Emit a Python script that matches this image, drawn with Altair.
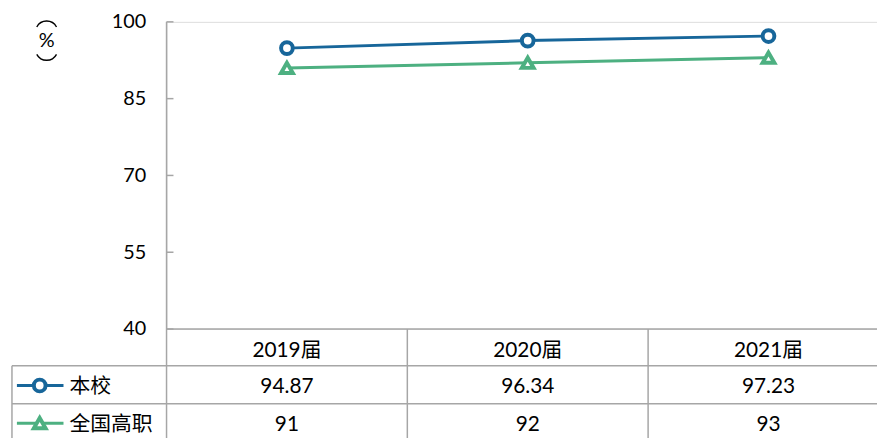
import math
import altair as alt
import pandas as pd

# ---- data ----
years = ["2019届", "2020届", "2021届"]
series_names = ["本校", "全国高职"]
school = [94.87, 96.34, 97.23]
national = [91, 92, 93]
y_ticks = [40, 55, 70, 85, 100]

# ---- styles ----
colors = ["#17669A", "#4DB081"]
shapes = ["circle", "triangle-up"]
FONT = "Lato, 'Noto Sans CJK SC', sans-serif"
GRID = "#A6A6A6"
TXT = "#000000"

rows = []
for s, vals in zip(series_names, [school, national]):
    for y, v in zip(years, vals):
        rows.append({"year": y, "series": s, "value": v})
df = pd.DataFrame(rows)
year_df = pd.DataFrame({"year": years})
tick_df = pd.DataFrame({"value": y_ticks})
one = pd.DataFrame({"k": [0]})

W, H = 717, 310
STEP = 243
xscale = alt.Scale(type="point", domain=years, range=[0, STEP * 3], padding=0.5)
yscale = alt.Scale(domain=[40, 100], nice=False, zero=False)
color_scale = alt.Scale(domain=series_names, range=colors)
shape_scale = alt.Scale(domain=series_names, range=shapes)

X = alt.X("year:N", scale=xscale, axis=None)
yaxis = alt.Axis(values=y_ticks, domain=False, ticks=False, grid=False, labelPadding=21,
                 labelFontSize=20, labelFont=FONT, labelColor=TXT, title=None)
Y = alt.Y("value:Q", scale=yscale, axis=yaxis)


def rule(x, x2, y, y2, w=1.5):
    return alt.Chart(one).mark_rule(color=GRID, strokeWidth=w).encode(
        x=alt.value(x), x2=alt.value(x2), y=alt.value(y), y2=alt.value(y2)
    )


ticks = alt.Chart(tick_df).mark_rule(color=GRID, strokeWidth=1.5).encode(
    y=Y, x=alt.value(0), x2=alt.value(7),
)

line = alt.Chart(df).mark_line(strokeWidth=3).encode(
    x=X, y=Y,
    color=alt.Color("series:N", scale=color_scale, legend=None),
)
pts = alt.Chart(df).mark_point(filled=False, fill="white", fillOpacity=1, opacity=1,
                               strokeWidth=4, size=140).encode(
    x=X, y=Y,
    color=alt.Color("series:N", scale=color_scale, legend=None),
    shape=alt.Shape("series:N", scale=shape_scale, legend=None),
)

layers = [ticks, line, pts]

# table grid
layers += [
    rule(0, 0, 0, 420),
    rule(0, W, 310, 310),
    rule(-156, W, 347, 347),
    rule(-156, W, 385.5, 385.5),
    rule(-156, -156, 347, 420),
]
col_sep = alt.Chart(pd.DataFrame({"year": years[1:]})).mark_rule(
    color=GRID, strokeWidth=1.5, xOffset=-STEP / 2).encode(
    x=X, y=alt.value(310), y2=alt.value(420))
layers.append(col_sep)

# header
header = alt.Chart(year_df).mark_text(fontSize=21, font=FONT, color=TXT, baseline="middle").encode(
    x=X, y=alt.value(332), text="year:N")
layers.append(header)

row_y = [369, 407]
for i, s in enumerate(series_names):
    sub = alt.Chart(df).transform_filter(alt.datum.series == s)
    layers.append(sub.mark_text(fontSize=21, font=FONT, color=TXT, baseline="middle").encode(
        x=X, y=alt.value(row_y[i]), text=alt.Text("value:Q", format="~g")))
    lab = alt.Chart(pd.DataFrame({"series": [s]}))
    layers.append(lab.mark_rule(strokeWidth=3).encode(
        x=alt.value(-151), x2=alt.value(-104), y=alt.value(row_y[i] - 2),
        color=alt.Color("series:N", scale=color_scale, legend=None)))
    layers.append(lab.mark_point(filled=False, fill="white", fillOpacity=1, opacity=1,
                                 strokeWidth=4, size=140).encode(
        x=alt.value(-128), y=alt.value(row_y[i] - 2),
        color=alt.Color("series:N", scale=color_scale, legend=None),
        shape=alt.Shape("series:N", scale=shape_scale, legend=None)))
    layers.append(lab.mark_text(fontSize=21, font=FONT, color=TXT, align="left", baseline="middle").encode(
        x=alt.value(-98), y=alt.value(row_y[i]), text="series:N"))

# vertical unit title "(%)": "%" as text, the turned parentheses as thin arcs
layers.append(alt.Chart(one).mark_text(fontSize=20, font=FONT, color=TXT,
                                       align="center", baseline="middle").encode(
    x=alt.value(-121), y=alt.value(19), text=alt.value("%")))
R = 11.3
half = 1.08
layers.append(alt.Chart(one).mark_arc(
    radius=R, radius2=R, theta=2 * math.pi - half, theta2=2 * math.pi + half,
    fillOpacity=0, stroke=TXT, strokeWidth=1.4).encode(
    x=alt.value(-121), y=alt.value(10.5)))
layers.append(alt.Chart(one).mark_arc(
    radius=R, radius2=R, theta=math.pi - half, theta2=math.pi + half,
    fillOpacity=0, stroke=TXT, strokeWidth=1.4).encode(
    x=alt.value(-121), y=alt.value(27.5)))

chart = alt.layer(*layers).properties(
    width=W, height=H,
    autosize=alt.AutoSizeParams(type="none"),
    padding={"left": 160, "top": 12, "right": 0, "bottom": 108},
).configure_view(stroke=None).configure(background="white")

chart.save("out.html", embed_options={"renderer": "svg", "actions": False})
